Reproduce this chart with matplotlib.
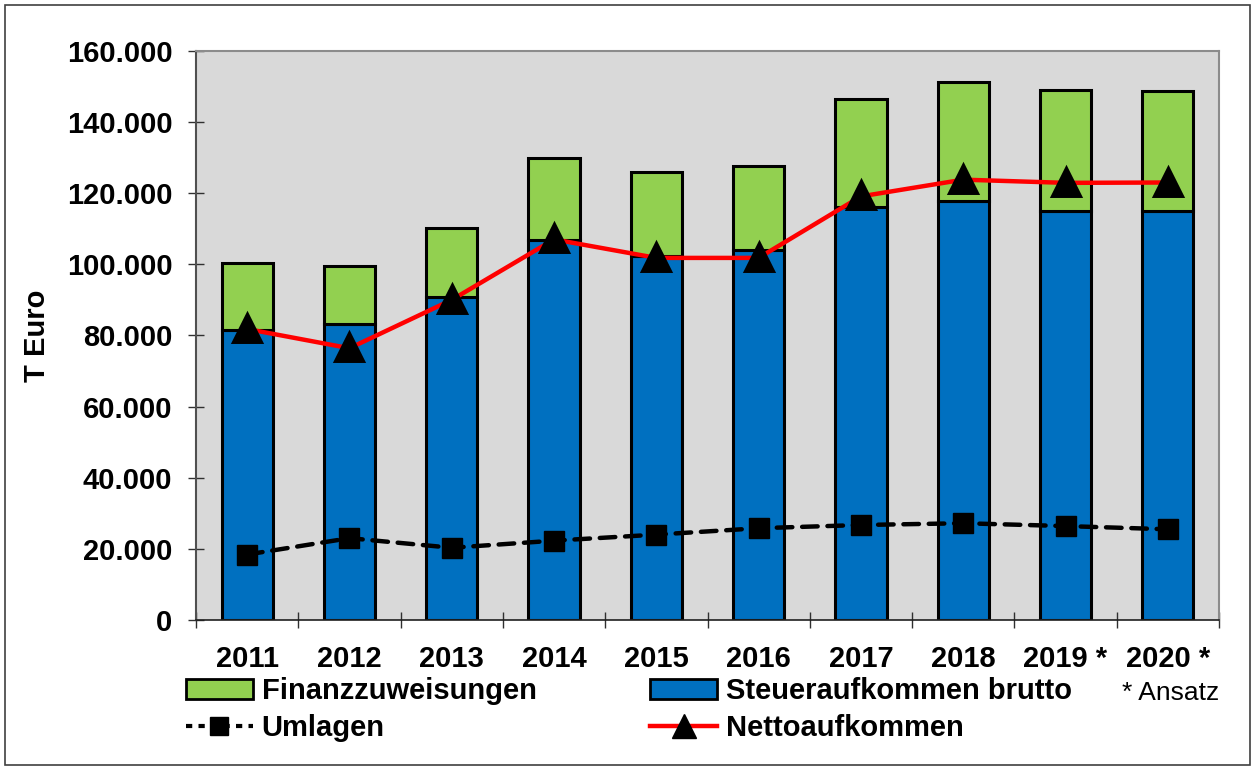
import matplotlib
matplotlib.use("Agg")
import matplotlib.pyplot as plt
import matplotlib.ticker as ticker
from matplotlib.patches import Rectangle, Patch
from matplotlib.lines import Line2D

plt.rcParams['font.family'] = ['Liberation Sans', 'DejaVu Sans']

# Data (T Euro)
years = ["2011", "2012", "2013", "2014", "2015", "2016", "2017", "2018", "2019 *", "2020 *"]
steuer_brutto = [81600, 83300, 90900, 106700, 102300, 104100, 116000, 117700, 114900, 114900]
gesamt = [100300, 99400, 110200, 129900, 125900, 127700, 146400, 151200, 149100, 148600]
finanzzuweisungen = [g - s for g, s in zip(gesamt, steuer_brutto)]
netto = [81800, 76400, 90000, 107000, 101800, 101800, 119100, 123800, 122900, 123000]
umlagen = [18400, 23000, 20300, 22300, 24000, 25800, 26700, 27200, 26400, 25500]

blue = "#0070c0"
green = "#92d050"
fs = 21

fig = plt.figure(figsize=(12.55, 7.69), dpi=100)
ax = fig.add_axes([0.1562, 0.1938, 0.8151, 0.740])
ax.set_facecolor("#d9d9d9")

x = list(range(len(years)))
ax.bar(x, steuer_brutto, width=0.5, color=blue, edgecolor="black", linewidth=2.2, zorder=2)
ax.bar(x, finanzzuweisungen, bottom=steuer_brutto, width=0.5, color=green,
       edgecolor="black", linewidth=2.2, zorder=2)

ax.plot(x, netto, color="#ff0000", linewidth=3.2, marker="^", markersize=16,
        markerfacecolor="black", markeredgecolor="black", markeredgewidth=5,
        solid_joinstyle="round", zorder=4)
ax.plot(x, umlagen, color="black", linewidth=3.2, linestyle=(0, (3.5, 2.2)),
        dash_capstyle="round", marker="s", markersize=15,
        markerfacecolor="black", markeredgecolor="black", zorder=4)

# Axes and ticks
ax.set_xlim(-0.5, len(years) - 0.5)
ax.set_ylim(0, 160000)
ax.yaxis.set_major_locator(ticker.MultipleLocator(20000))
ax.yaxis.set_major_formatter(ticker.FuncFormatter(lambda v, p: f"{int(v):,}".replace(",", ".")))
ax.set_xticks(x)
ax.set_xticklabels(years)
ax.set_xticks([i - 0.5 for i in range(len(years) + 1)], minor=True)
ax.tick_params(axis="x", which="major", length=0, pad=18)
ax.tick_params(axis="x", which="minor", direction="inout", length=12, width=1, color="#303030")
ax.tick_params(axis="y", which="major", direction="inout", length=12, width=1, color="#303030", pad=11)
for lab in ax.get_xticklabels() + ax.get_yticklabels():
    lab.set_fontsize(fs)
    lab.set_fontweight("bold")

for side in ["top", "right"]:
    ax.spines[side].set_color("#8c8c8c")
    ax.spines[side].set_linewidth(1.5)
ax.spines["left"].set_color("#505050")
ax.spines["left"].set_linewidth(1.5)
ax.spines["bottom"].set_color("#202020")
ax.spines["bottom"].set_linewidth(1.2)

ax.set_ylabel("T Euro", fontsize=fs, fontweight="bold")
ax.yaxis.set_label_coords(-0.142, 0.5)

# Legend
handles = [
    Patch(facecolor=green, edgecolor="black", linewidth=2),
    Line2D([], [], color="black", linewidth=3, linestyle=(0, (1.5, 1.5)),
           marker="s", markersize=13),
    Patch(facecolor=blue, edgecolor="black", linewidth=2),
    Line2D([], [], color="#ff0000", linewidth=3.2, marker="^", markersize=17,
           markerfacecolor="black", markeredgecolor="black"),
]
labels = ["Finanzzuweisungen", "Umlagen", "Steueraufkommen brutto", "Nettoaufkommen"]
fig.legend(handles, labels, ncol=2, loc="center left", bbox_to_anchor=(0.148, 0.077),
           frameon=False, prop={"size": fs, "weight": "bold"}, handlelength=2.3,
           handletextpad=0.3, columnspacing=3.9, labelspacing=0.3, borderpad=0,
           borderaxespad=0)
fig.text(0.894, 0.099, "* Ansatz", fontsize=19, va="center", ha="left")

# Outer border
fig.patches.append(Rectangle((0.004, 0.005), 0.992, 0.988, transform=fig.transFigure,
                             fill=False, edgecolor="#404040", linewidth=1.2))

fig.savefig("out.png", dpi=100)
